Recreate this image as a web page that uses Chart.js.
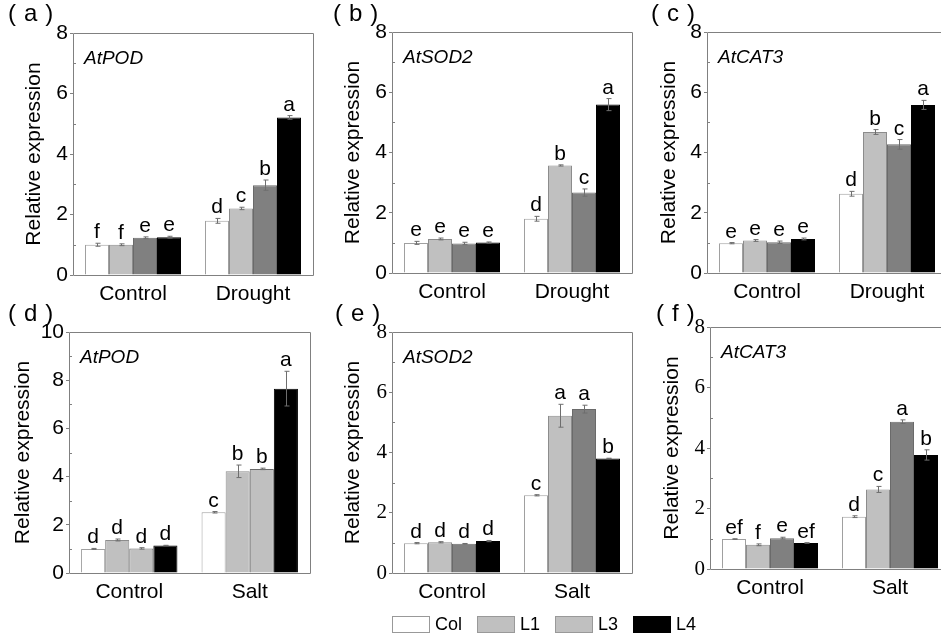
<!DOCTYPE html>
<html>
<head>
<meta charset="utf-8">
<script src="https://cdn.jsdelivr.net/npm/chart.js@4.4.0/dist/chart.umd.min.js"></script>
<style>
html,body{margin:0;padding:0;background:#fff;overflow:hidden;}
body{width:941px;height:635px;position:relative;font-family:"Liberation Sans",Arial,sans-serif;}
canvas{position:absolute;}
.tag{position:absolute;font-family:"Liberation Sans",Arial,sans-serif;font-size:24px;line-height:24px;letter-spacing:8px;color:#000;white-space:nowrap;}
.key{position:absolute;top:616px;width:36px;height:15px;border:1px solid #999;}
.keytxt{position:absolute;top:615px;font-size:18px;line-height:19px;color:#000;}
</style>
</head>
<body>
<script>
// ================================
// Data
// ================================

const lines = ['Col', 'L1', 'L3', 'L4'];
const droughtCats = ['Control', 'Drought'];
const saltCats = ['Control', 'Salt'];

// one row per line (Col, L1, L3, L4): [Control, treatment]

// (a) AtPOD - drought
const podDroughtMean = [[1.00, 1.79], [1.00, 2.20], [1.23, 2.97], [1.25, 5.21]];
const podDroughtErr  = [[0.05, 0.08], [0.03, 0.04], [0.03, 0.17], [0.03, 0.06]];
const podDroughtSig  = [['f', 'd'], ['f', 'c'], ['e', 'b'], ['e', 'a']];

// (b) AtSOD2 - drought
const sodDroughtMean = [[1.00, 1.80], [1.13, 3.57], [0.98, 2.67], [1.01, 5.59]];
const sodDroughtErr  = [[0.05, 0.08], [0.03, 0.02], [0.04, 0.12], [0.02, 0.20]];
const sodDroughtSig  = [['e', 'd'], ['e', 'b'], ['e', 'c'], ['e', 'a']];

// (c) AtCAT3 - drought
const catDroughtMean = [[0.99, 2.63], [1.08, 4.68], [1.02, 4.27], [1.13, 5.58]];
const catDroughtErr  = [[0.02, 0.08], [0.03, 0.08], [0.04, 0.16], [0.03, 0.15]];
const catDroughtSig  = [['e', 'd'], ['e', 'b'], ['e', 'c'], ['e', 'a']];

// (d) AtPOD - salt
const podSaltMean = [[1.00, 2.52], [1.37, 4.22], [1.02, 4.32], [1.14, 7.65]];
const podSaltErr  = [[0.02, 0.03], [0.04, 0.26], [0.03, 0.03], [0.01, 0.72]];
const podSaltSig  = [['d', 'c'], ['d', 'b'], ['d', 'b'], ['d', 'a']];

// (e) AtSOD2 - salt
const sodSaltMean = [[0.99, 2.58], [1.02, 5.22], [0.97, 5.44], [1.06, 3.80]];
const sodSaltErr  = [[0.02, 0.02], [0.02, 0.38], [0.01, 0.13], [0.02, 0.01]];
const sodSaltSig  = [['d', 'c'], ['d', 'a'], ['d', 'a'], ['d', 'b']];

// (f) AtCAT3 - salt
const catSaltMean = [[0.99, 1.73], [0.80, 2.63], [1.02, 4.87], [0.86, 3.77]];
const catSaltErr  = [[0.01, 0.03], [0.03, 0.10], [0.03, 0.06], [0.01, 0.17]];
const catSaltSig  = [['ef', 'd'], ['f', 'c'], ['e', 'a'], ['ef', 'b']];

// ================================
// Styles
// ================================

const sans = '"Liberation Sans", Arial, sans-serif';
const serif = '"Liberation Serif", "Times New Roman", serif';
const barColors = ['#ffffff', '#c0c0c0', '#808080', '#000000'];
const barColorsD = ['#ffffff', '#c0c0c0', '#c0c0c0', '#000000'];
const barBorders = ['#a0a0a0', '#8c8c8c', '#6a6a6a', '#000000'];
const legendColors = ['#ffffff', '#c0c0c0', '#c0c0c0', '#000000'];
const axisGray = '#808080';

// ================================
// Panels (plot rectangle in page pixels)
// ================================

const panels = [
  {tag:'(a)', tagX:8,   tagY:1,   gene:'AtPOD',  cats:droughtCats, mean:podDroughtMean, err:podDroughtErr, sig:podDroughtSig, max:8,  L:73,  T:33,  R:313, B:275, gap:39, serif:false, colors:barColors},
  {tag:'(b)', tagX:333, tagY:1,   gene:'AtSOD2', cats:droughtCats, mean:sodDroughtMean, err:sodDroughtErr, sig:sodDroughtSig, max:8,  L:392, T:32,  R:632, B:273, gap:39, serif:false, colors:barColors},
  {tag:'(c)', tagX:651, tagY:1,   gene:'AtCAT3', cats:droughtCats, mean:catDroughtMean, err:catDroughtErr, sig:catDroughtSig, max:8,  L:707, T:32,  R:947, B:273, gap:38, serif:false, colors:barColors},
  {tag:'(d)', tagX:8,   tagY:301, gene:'AtPOD',  cats:saltCats,    mean:podSaltMean,    err:podSaltErr,    sig:podSaltSig,    max:10, L:69,  T:332, R:310, B:573, gap:46, serif:false, colors:barColorsD},
  {tag:'(e)', tagX:335, tagY:301, gene:'AtSOD2', cats:saltCats,    mean:sodSaltMean,    err:sodSaltErr,    sig:sodSaltSig,    max:8,  L:392, T:332, R:632, B:573, gap:39, serif:true,  colors:barColors},
  {tag:'(f)', tagX:656, tagY:301, gene:'AtCAT3', cats:saltCats,    mean:catSaltMean,    err:catSaltErr,    sig:catSaltSig,    max:8,  L:710, T:327, R:950, B:569, gap:38, serif:true,  colors:barColors}
];

// ================================
// Extras: frame, minor ticks, error bars, letters, gene name
// ================================

function extras(p){
  return {
    id:'extras',
    afterDatasetsDraw(chart){
      const ctx = chart.ctx;
      const a = chart.chartArea;
      const y = chart.scales.y;
      ctx.save();

      // error bars + significance letters
      ctx.lineWidth = 1;
      chart.data.datasets.forEach((ds, i) => {
        chart.getDatasetMeta(i).data.forEach((el, j) => {
          const m = ds.data[j], e = p.err[i][j];
          const x = Math.round(el.x) + 0.5;
          const yt = y.getPixelForValue(m + e);
          const yb = y.getPixelForValue(m - e);
          ctx.strokeStyle = '#6e6e6e';
          ctx.beginPath();
          ctx.moveTo(x, yt); ctx.lineTo(x, yb);
          ctx.moveTo(x - 2, yt); ctx.lineTo(x + 3, yt);
          ctx.moveTo(x - 2, yb); ctx.lineTo(x + 3, yb);
          ctx.stroke();

          ctx.fillStyle = '#000';
          ctx.font = '21px ' + sans;
          ctx.textAlign = 'center';
          ctx.textBaseline = 'alphabetic';
          ctx.fillText(p.sig[i][j], el.x, yt - 5);
        });
      });

      // frame
      ctx.strokeStyle = axisGray;
      ctx.beginPath();
      ctx.rect(Math.round(a.left) + 0.5, Math.round(a.top) + 0.5,
               Math.round(a.right - a.left), Math.round(a.bottom - a.top));
      ctx.stroke();

      // minor ticks (inside)
      ctx.beginPath();
      for(let v = 1; v < p.max; v += 2){
        const yy = Math.round(y.getPixelForValue(v)) + 0.5;
        ctx.moveTo(a.left, yy); ctx.lineTo(a.left + 3, yy);
      }
      ctx.stroke();

      // gene name
      ctx.fillStyle = '#000';
      ctx.font = 'italic 19px ' + sans;
      ctx.textAlign = 'left';
      ctx.fillText(p.gene, a.left + 11, a.top + 31);

      ctx.restore();
    }
  };
}

// ================================
// Build charts
// ================================

function makePanel(p){

  const cv = document.createElement('canvas');
  cv.width = (p.R - p.L) + 84;
  cv.height = (p.B - p.T) + 67;
  cv.style.left = (p.L - 80) + 'px';
  cv.style.top = (p.T - 35) + 'px';
  document.body.appendChild(cv);

  const tag = document.createElement('div');
  tag.className = 'tag';
  tag.style.left = p.tagX + 'px';
  tag.style.top = p.tagY + 'px';
  tag.textContent = p.tag;
  document.body.appendChild(tag);

  new Chart(cv, {
    type:'bar',
    data:{
      labels:p.cats,
      datasets:lines.map((name, i) => ({
        label:name,
        data:p.mean[i],
        backgroundColor:p.colors[i],
        borderColor:barBorders[i],
        borderWidth:1,
        categoryPercentage:0.8,
        barPercentage:1.0
      }))
    },
    options:{
      responsive:false,
      animation:false,
      devicePixelRatio:1,
      layout:{padding:{left:0, top:35, right:4, bottom:0}},
      plugins:{legend:{display:false}, tooltip:{enabled:false}},
      scales:{
        x:{
          grid:{display:false},
          border:{display:false},
          ticks:{color:'#000', padding:-1, font:{family:sans, size:21}},
          afterFit:s => { s.height = 32; }
        },
        y:{
          min:0,
          max:p.max,
          grid:{drawOnChartArea:false, drawTicks:true, tickLength:3, tickColor:axisGray},
          border:{display:false},
          ticks:{stepSize:2, color:'#000', padding:2, font:{family:p.serif ? serif : sans, size:21}},
          title:{display:true, text:'Relative expression', color:'#000',
                 font:{family:sans, size:21, lineHeight:1.2},
                 padding:{top:80 - p.gap - 12.6, bottom:0}},
          afterFit:s => { s.width = 80; }
        }
      }
    },
    plugins:[extras(p)]
  });

}

panels.forEach(makePanel);

// ================================
// Shared legend
// ================================

const legendBoxX = [392, 477, 555, 633];
lines.forEach((name, i) => {
  const box = document.createElement('div');
  box.className = 'key';
  box.style.left = legendBoxX[i] + 'px';
  box.style.background = legendColors[i];
  if(i === 3) box.style.borderColor = '#000';
  document.body.appendChild(box);
  const t = document.createElement('div');
  t.className = 'keytxt';
  t.style.left = (legendBoxX[i] + 43) + 'px';
  t.textContent = name;
  document.body.appendChild(t);
});
</script>
</body>
</html>
